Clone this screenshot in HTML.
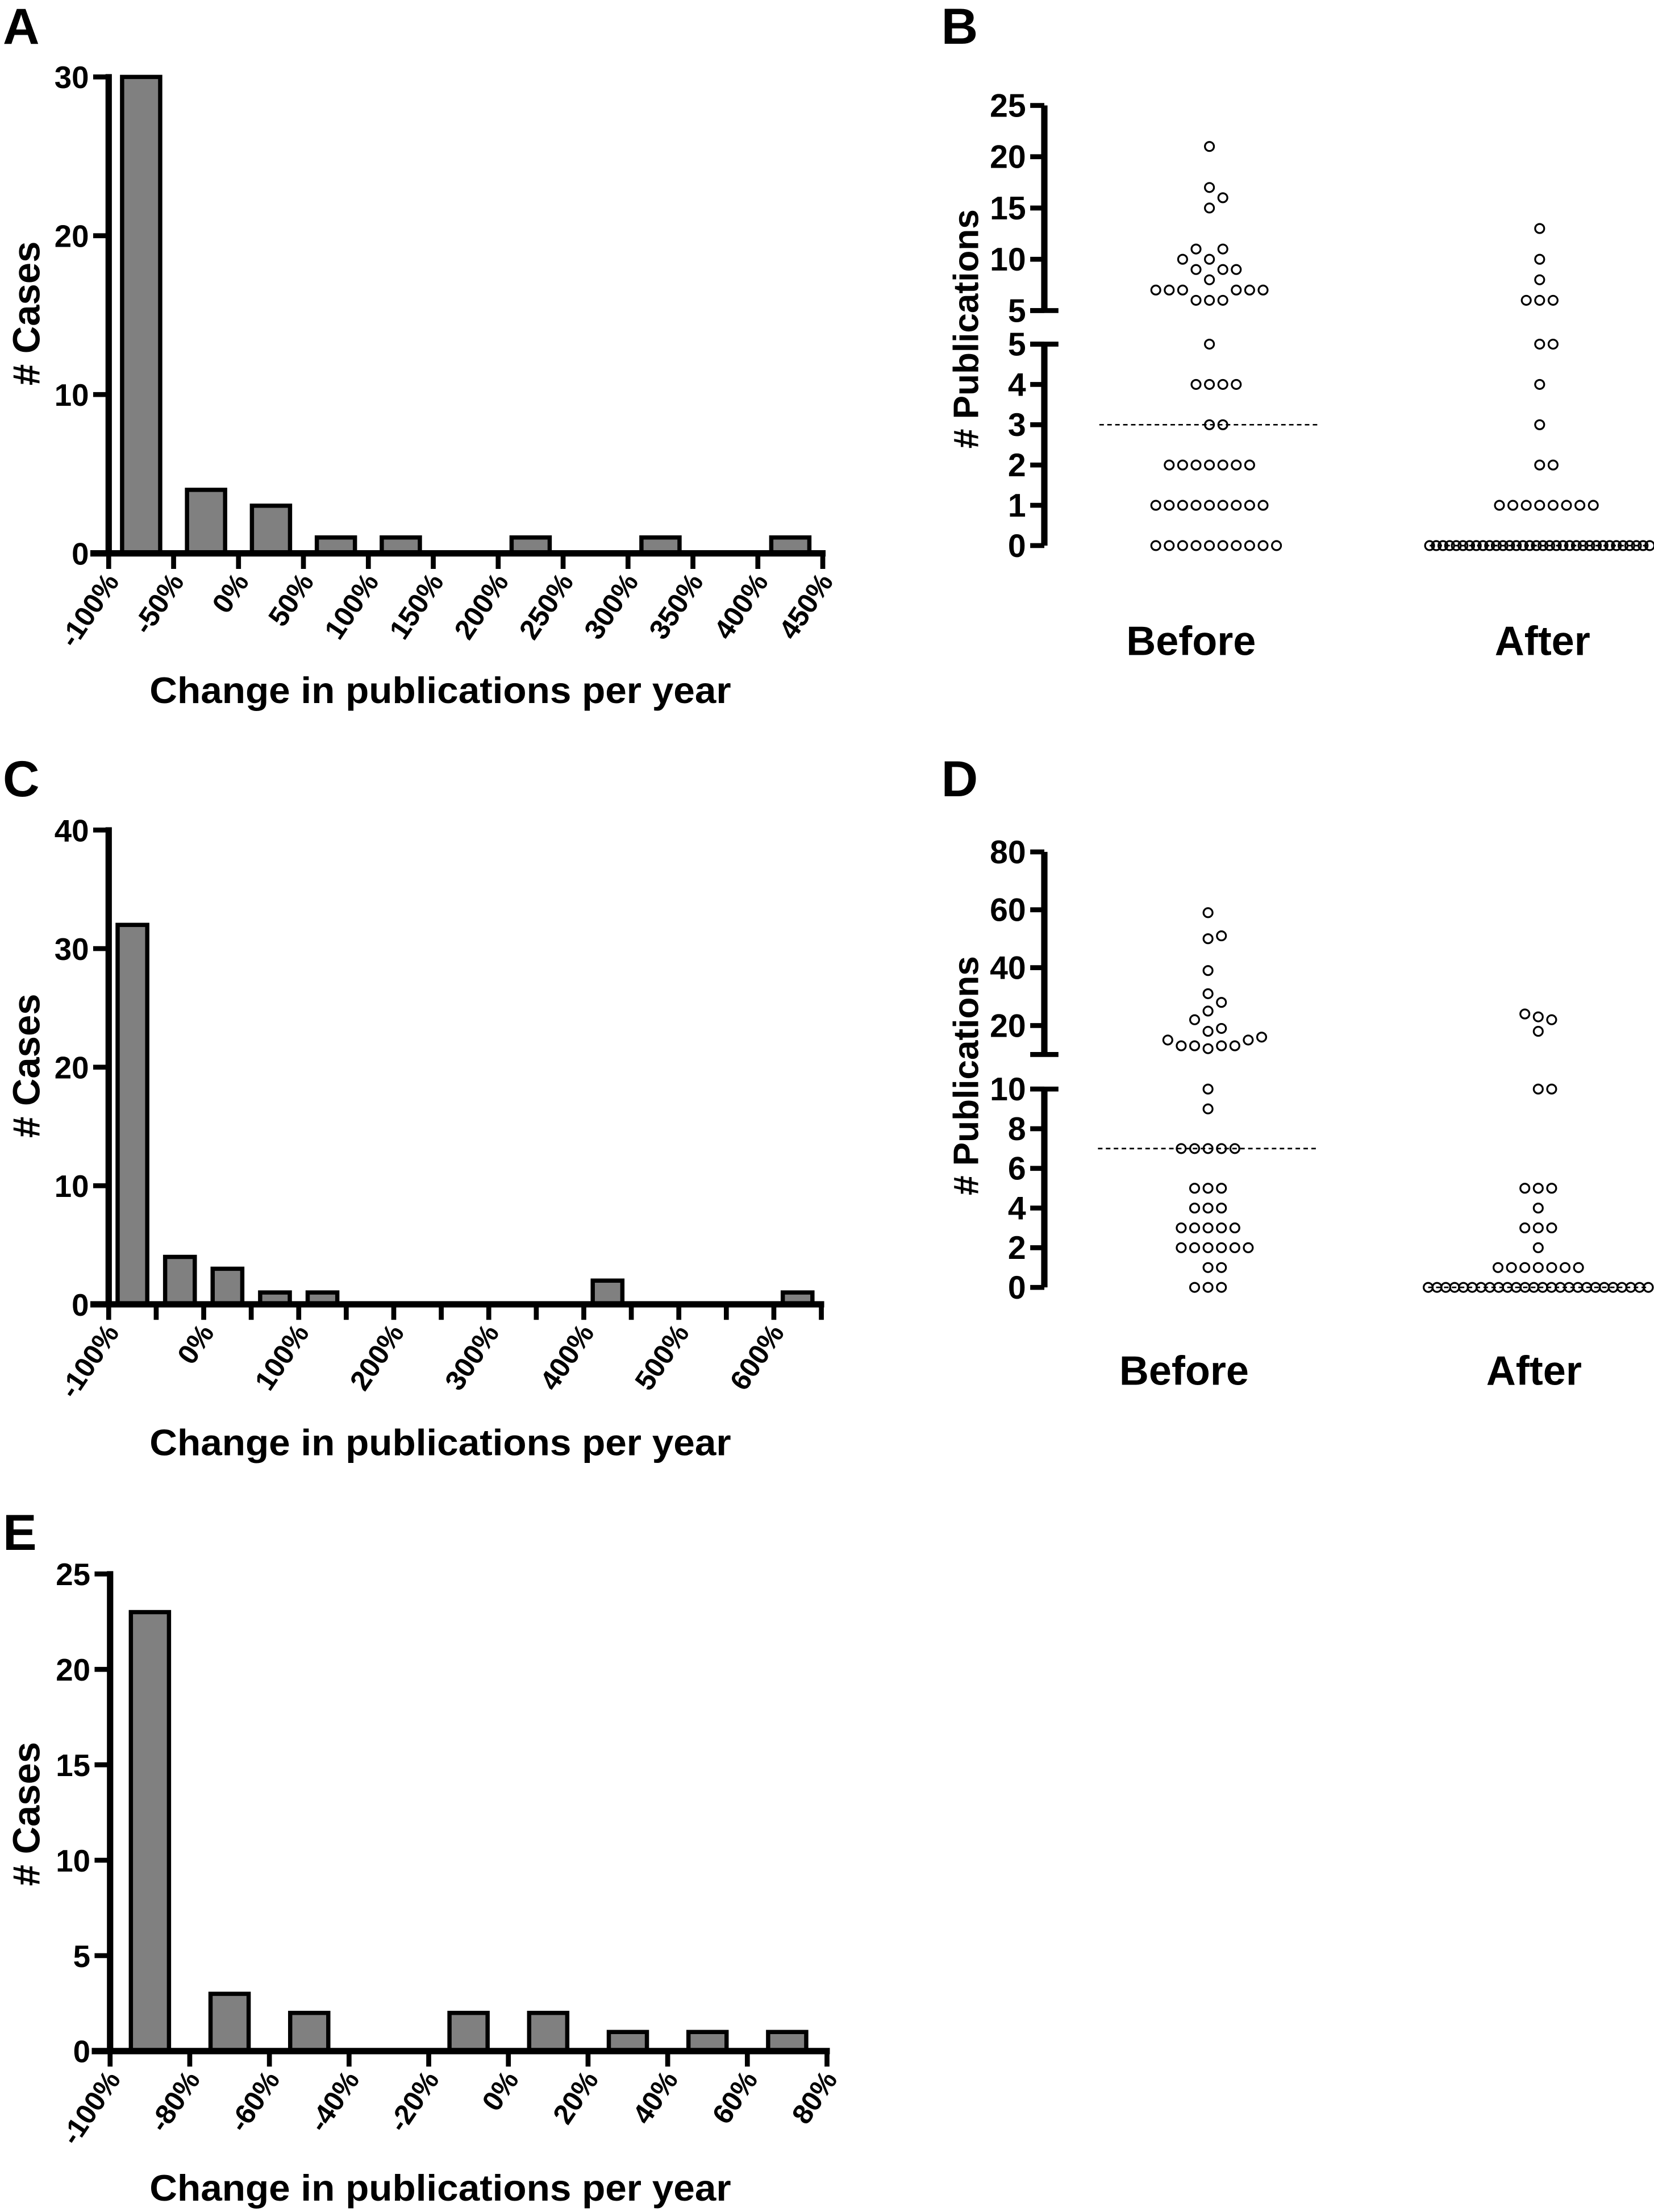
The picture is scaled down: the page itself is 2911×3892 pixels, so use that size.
<!DOCTYPE html>
<html><head><meta charset="utf-8">
<style>
html,body{margin:0;padding:0;background:#fff;}
svg{display:block;}
text{font-family:"Liberation Sans",Arial,sans-serif;font-weight:bold;fill:#000;}
</style></head>
<body>
<svg id="fig" xmlns="http://www.w3.org/2000/svg" width="2911" height="3892" viewBox="0 0 1172 1567">
<rect x="0" y="0" width="1172" height="1567" fill="#fff"/>
<text x="2" y="31" font-size="36">A</text>
<text x="667" y="31" font-size="36">B</text>
<text x="2" y="564" font-size="36">C</text>
<text x="667" y="564" font-size="36">D</text>
<text x="2" y="1098" font-size="36">E</text>
</svg>
<script>
// ---- Panel A data ----
const aLabels = ['-100%','-50%','0%','50%','100%','150%','200%','250%','300%','350%','400%','450%'];
const aCounts = [30,4,3,1,1,0,1,0,1,0,1];
const aYTicks = [0,10,20,30];
// ---- Panel C data ----
const cLabels = ['-100%','0%','100%','200%','300%','400%','500%','600%'];
const cCounts = [32,4,3,1,1,0,0,0,0,0,2,0,0,0,1];
const cYTicks = [0,10,20,30,40];
// ---- Panel E data ----
const eLabels = ['-100%','-80%','-60%','-40%','-20%','0%','20%','40%','60%','80%'];
const eCounts = [23,3,2,0,2,2,1,1,1];
const eYTicks = [0,5,10,15,20,25];
// ---- Panel B data ----
const bCategories = ['Before','After'];
const bBefore = [0,0,0,0,0,0,0,0,0,0, 1,1,1,1,1,1,1,1,1, 2,2,2,2,2,2,2, 3,3, 4,4,4,4, 5,
  6,6,6, 7,7,7,7,7,7, 8, 9,9,9, 10,10, 11,11, 15,16,17,21];
const bAfter = [0,0,0,0,0,0,0,0,0,0,0,0,0,0,0,0,0,0,0,0,0,0,0,0,0,0,0,0,0,0,0,0,0,0,
  1,1,1,1,1,1,1,1, 2,2, 3, 4, 5,5, 6,6,6, 8, 10, 13];
const bUpperTicks = [5,10,15,20,25];
const bLowerTicks = [0,1,2,3,4,5];
// ---- Panel D data ----
const dCategories = ['Before','After'];
const dBefore = [0,0,0, 1,1, 2,2,2,2,2,2, 3,3,3,3,3, 4,4,4, 5,5,5, 7,7,7,7,7, 9, 10,
  12,13,13,13,13,15,15,16,18,19,22,25,28,31,39,50,51,59];
const dAfter = [0,0,0,0,0,0,0,0,0,0,0,0,0,0,0,0,0,0,0,0,0,0,0,0,0,0,
  1,1,1,1,1,1,1, 2, 3,3,3, 4, 5,5,5, 10,10, 18,22,23,24];
const dUpperTicks = [20,40,60,80];
const dLowerTicks = [0,2,4,6,8,10];

const NS = 'http://www.w3.org/2000/svg';
const svg = document.getElementById('fig');
function mk(tag, attrs, parent) {
  const e = document.createElementNS(NS, tag);
  for (const k in attrs) e.setAttribute(k, attrs[k]);
  (parent || svg).appendChild(e);
  return e;
}

function histogram(o, counts, labels, yTicks) {
  const g = mk('g', {});
  
  
  const nB = counts.length;
  const pitch = (o.xEnd - o.xStart) / nB;
  const xs = i => o.xStart + pitch * i;
  const ys = v => o.y0 - v * (o.y0 - o.yMaxPx) / o.yMax;
  counts.forEach((c, i) => {
    if (c <= 0) return;
    const r = mk('rect', {x: xs(i) + pitch / 2 - o.barW / 2, y: ys(c), width: o.barW, height: ys(0) - ys(c),
      fill: '#808080', stroke: '#000', 'stroke-width': 3}, g);
    
    
  });
  const ya = mk('line', {x1: o.xStart, x2: o.xStart, y1: ys(o.yMax) - 2, y2: o.y0, stroke: '#000', 'stroke-width': 4.5}, g);
  
  
  const xa = mk('line', {x1: o.xStart - 13, x2: o.xEnd + 2, y1: o.y0, y2: o.y0, stroke: '#000', 'stroke-width': 4.5}, g);
  
  
  for (let i = 0; i <= nB; i++) {
    mk('line', {x1: xs(i), x2: xs(i), y1: o.y0, y2: o.y0 + 11, stroke: '#000', 'stroke-width': 3.5}, g);
    if (i % o.every === 0 && labels[i / o.every] !== undefined) {
      const t = mk('text', {'font-size': 20, 'text-anchor': 'end',
        transform: 'translate(' + (xs(i) + 8) + ',' + (o.y0 + 20) + ') rotate(-56)'}, g);
      t.textContent = labels[i / o.every];
      
      
    }
  }
  yTicks.forEach(v => {
    mk('line', {x1: o.xStart - 11, x2: o.xStart, y1: ys(v), y2: ys(v), stroke: '#000', 'stroke-width': 3.5}, g);
    const t = mk('text', {x: o.xStart - 14, y: ys(v) + 8, 'font-size': 22, 'text-anchor': 'end'}, g);
    t.textContent = v;
    
    
  });
  const yt = mk('text', {'font-size': 27, 'text-anchor': 'middle', transform: 'translate(28,' + o.yTitleY + ') rotate(-90)'}, g);
  yt.textContent = '# Cases';
  
  
  const xt = mk('text', {x: 312, y: o.xTitleY, 'font-size': 26, 'text-anchor': 'middle', textLength: 412, lengthAdjust: 'spacingAndGlyphs'}, g);
  xt.textContent = 'Change in publications per year';
  
  
}

histogram({name: 'panel-a-histogram', xStart: 77, xEnd: 583, y0: 392, yMax: 30, yMaxPx: 54.5, barW: 27, every: 1, yTitleY: 222, xTitleY: 498}, aCounts, aLabels, aYTicks);
histogram({name: 'panel-c-histogram', xStart: 77, xEnd: 582, y0: 924, yMax: 40, yMaxPx: 588, barW: 21, every: 2, yTitleY: 755, xTitleY: 1031}, cCounts, cLabels, cYTicks);
histogram({name: 'panel-e-histogram', xStart: 78, xEnd: 586, y0: 1453, yMax: 25, yMaxPx: 1115, barW: 27, every: 1, yTitleY: 1285, xTitleY: 1559}, eCounts, eLabels, eYTicks);

function dotplot(o, categories, groups, upperTicks, lowerTicks) {
  const g = mk('g', {});
  
  
  const lowY = v => o.lo.pxLo - (v - o.lo.vLo) * (o.lo.pxLo - o.lo.pxHi) / (o.lo.vHi - o.lo.vLo);
  const upY = v => o.up.pxLo - (v - o.up.vLo) * (o.up.pxLo - o.up.pxHi) / (o.up.vHi - o.up.vLo);
  const ys = v => (v <= o.lo.vHi ? lowY(v) : upY(v));
  const ax = o.axisX;
  [[o.up.pxHi, o.up.pxLo], [o.lo.pxHi, o.lo.pxLo]].forEach(s => {
    const l = mk('line', {x1: ax, x2: ax, y1: s[0], y2: s[1], stroke: '#000', 'stroke-width': 4.5}, g);
    
    
  });
  [o.up.pxLo, o.lo.pxHi].forEach(y => {
    mk('line', {x1: ax - 10, x2: ax + 10, y1: y, y2: y, stroke: '#000', 'stroke-width': 3.5}, g);
  });
  const tick = (v, y) => {
    mk('line', {x1: ax - 10, x2: ax, y1: y, y2: y, stroke: '#000', 'stroke-width': 3.5}, g);
    const t = mk('text', {x: ax - 13, y: y + 8, 'font-size': 23, 'text-anchor': 'end'}, g);
    t.textContent = v;
    
    
  };
  upperTicks.forEach(v => tick(v, upY(v)));
  lowerTicks.forEach(v => tick(v, lowY(v)));
  const yt = mk('text', {'font-size': 25, 'text-anchor': 'middle', transform: 'translate(693,' + o.yTitleY + ') rotate(-90)'}, g);
  yt.textContent = '# Publications';
  
  

  const d = 9.5;
  groups.forEach((vals, gi) => {
    const cx = o.centers[gi];
    const sorted = vals.slice().sort((a, b) => a - b);
    const counts = {};
    sorted.forEach(v => { counts[v] = (counts[v] || 0) + 1; });
    const placed = [];
    Object.keys(counts).forEach(k => {
      const n = counts[k];
      if (n > 17) {
        const sp = Math.min(d, 156 / (n - 1));
        for (let i = 0; i < n; i++) placed.push({x: cx - sp * (n - 1) / 2 + sp * i, y: ys(+k)});
      }
    });
    sorted.forEach(v => {
      if (counts[v] > 17) return;
      const y = ys(v);
      for (let k = 0; k < 60; k++) {
        const off = (k === 0) ? 0 : (k % 2 ? 1 : -1) * Math.ceil(k / 2) * d;
        const x = cx + off;
        if (placed.every(p => Math.hypot(p.x - x, p.y - y) >= d - 0.2)) { placed.push({x: x, y: y}); break; }
      }
    });
    const med = sorted.length % 2 ? sorted[(sorted.length - 1) / 2] : (sorted[sorted.length / 2 - 1] + sorted[sorted.length / 2]) / 2;
    const ml = mk('line', {x1: cx - 78, x2: cx + 78, y1: ys(med), y2: ys(med), stroke: '#000', 'stroke-width': 1.1, 'stroke-dasharray': '3.2 2.4'}, g);
    
    
    placed.forEach(p => {
      const c = mk('circle', {cx: p.x, cy: p.y, r: 3.2, fill: 'none', stroke: '#000', 'stroke-width': 1.3}, g);
      
      
    });
    const lt = mk('text', {x: o.labelX[gi], y: o.labelY, 'font-size': 29, 'text-anchor': 'middle'}, g);
    lt.textContent = categories[gi];
    
    
  });
}

dotplot({name: 'panel-b-dotplot', axisX: 740, centers: [857, 1091], labelX: [844, 1093], labelY: 464, yTitleY: 233,
  lo: {vLo: 0, vHi: 5, pxLo: 386.5, pxHi: 243.8}, up: {vLo: 5, vHi: 25, pxLo: 220, pxHi: 74.7}},
  bCategories, [bBefore, bAfter], bUpperTicks, bLowerTicks);
dotplot({name: 'panel-d-dotplot', axisX: 740, centers: [856, 1090], labelX: [839, 1087], labelY: 981, yTitleY: 762,
  lo: {vLo: 0, vHi: 10, pxLo: 912, pxHi: 771.5}, up: {vLo: 10, vHi: 80, pxLo: 747, pxHi: 603.5}},
  dCategories, [dBefore, dAfter], dUpperTicks, dLowerTicks);
</script>
</body></html>
